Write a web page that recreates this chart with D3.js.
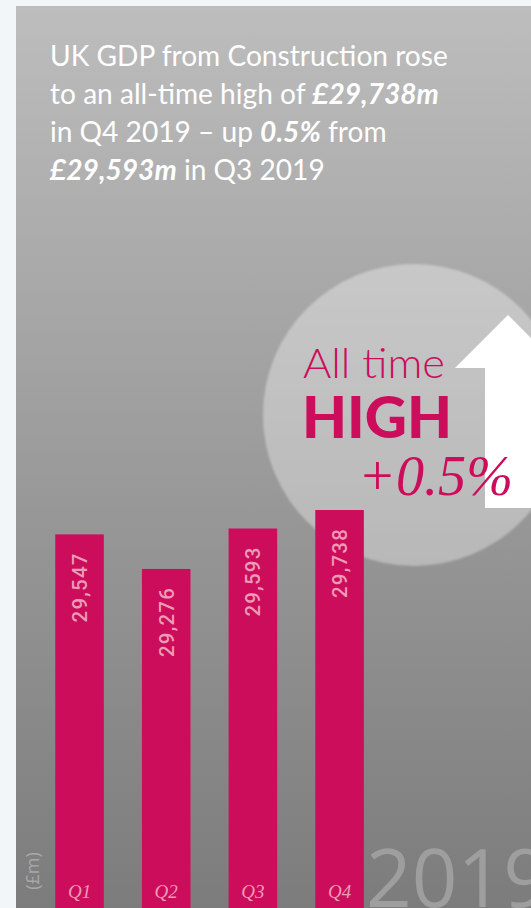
<!DOCTYPE html>
<html>
<head>
<meta charset="utf-8">
<script src="https://cdn.jsdelivr.net/npm/d3@7"></script>
<style>
  html, body { margin: 0; padding: 0; background: #f3f6f9; }
  svg { display: block; }
</style>
</head>
<body>
<script>
// Quarterly UK construction output, 2019 (£m)
const quarters = ["Q1", "Q2", "Q3", "Q4"];
const gdpValues = [29547, 29276, 29593, 29738];
const valueLabels = ["29,547", "29,276", "29,593", "29,738"];
const axisFloor = 26620;   // value at the bottom edge of the bars
const yearLabel = "2019";
const unitLabel = "(£m)";

const titleLines = [
  [{t: "UK GDP from Construction rose", b: false}],
  [{t: "to an all-time high of ", b: false}, {t: "£29,738m", b: true}],
  [{t: "in Q4 2019 – up ", b: false}, {t: "0.5%", b: true}, {t: " from", b: false}],
  [{t: "£29,593m", b: true}, {t: " in Q3 2019", b: false}]
];

const W = 531, H = 908;
const pink = "#cc0d5b";
const pinkLight = "#ee9bb6";

const svg = d3.select("body").append("svg")
  .attr("width", W).attr("height", H);

const defs = svg.append("defs");
const bg = defs.append("linearGradient").attr("id", "panelGrad")
  .attr("x1", 0).attr("y1", 0).attr("x2", 0).attr("y2", 1);
bg.append("stop").attr("offset", "0%").attr("stop-color", "#bdbdbd");
bg.append("stop").attr("offset", "55%").attr("stop-color", "#989898");
bg.append("stop").attr("offset", "100%").attr("stop-color", "#7c7c7c");

const cg = defs.append("linearGradient").attr("id", "circleGrad")
  .attr("x1", 0).attr("y1", 0).attr("x2", 0).attr("y2", 1);
cg.append("stop").attr("offset", "0%").attr("stop-color", "#c8c8c8");
cg.append("stop").attr("offset", "100%").attr("stop-color", "#b8b8b8");

defs.append("filter").attr("id", "soft")
  .append("feGaussianBlur").attr("stdDeviation", 0.8);

defs.append("clipPath").attr("id", "panelClip")
  .append("rect").attr("x", 16).attr("y", 6).attr("width", W - 16).attr("height", H - 6);

// page and panel
svg.append("rect").attr("width", W).attr("height", H).attr("fill", "#f3f6f9");
svg.append("rect").attr("x", 16).attr("y", 6).attr("width", W - 16).attr("height", H - 6)
  .attr("fill", "url(#panelGrad)");

const panel = svg.append("g").attr("clip-path", "url(#panelClip)");

// highlight disc with the upward arrow
panel.append("circle").attr("cx", 414).attr("cy", 415).attr("r", 151)
  .attr("fill", "url(#circleGrad)").attr("filter", "url(#soft)");

const arrow = d3.path();
arrow.moveTo(508, 315);
arrow.lineTo(561, 368);
arrow.lineTo(531, 368);
arrow.lineTo(531, 508);
arrow.lineTo(485, 508);
arrow.lineTo(485, 368);
arrow.lineTo(455, 368);
arrow.closePath();
panel.append("path").attr("d", arrow.toString()).attr("fill", "#ffffff");

panel.append("text").attr("x", 303).attr("y", 378)
  .attr("font-family", "Lato, sans-serif").attr("font-weight", 300)
  .attr("font-size", 41).attr("fill", pink)
  .attr("textLength", 142).attr("lengthAdjust", "spacingAndGlyphs")
  .text("All time");
panel.append("text").attr("x", 302).attr("y", 438)
  .attr("font-family", "Lato, sans-serif").attr("font-weight", 900)
  .attr("font-size", 57).attr("fill", pink)
  .attr("textLength", 150).attr("lengthAdjust", "spacingAndGlyphs")
  .text("HIGH");
panel.append("text").attr("x", 358).attr("y", 495)
  .attr("font-family", "'Liberation Serif', serif").attr("font-style", "italic")
  .attr("font-size", 58).attr("fill", pink)
  .attr("textLength", 155).attr("lengthAdjust", "spacingAndGlyphs")
  .text("+0.5%");

// headline
const title = panel.append("g").attr("transform", "translate(50,0)");
const titleText = title.selectAll("text").data(titleLines).join("text")
  .attr("x", 0)
  .attr("y", (d, i) => 66.5 + i * 37.8)
  .attr("font-family", "Lato, sans-serif")
  .attr("font-size", 29)
  .attr("fill", "#ffffff");
titleText.selectAll("tspan").data(d => d).join("tspan")
  .attr("font-weight", d => d.b ? 700 : 400)
  .attr("font-style", d => d.b ? "italic" : "normal")
  .text(d => d.t);
const firstLen = titleText.node().getComputedTextLength();
title.attr("transform", `translate(50,0) scale(${398 / firstLen},1)`);

// bars
const x = d3.scaleBand().domain(quarters).range([36.2, 382.9])
  .paddingInner(0.44).paddingOuter(0.22);
const y = d3.scaleLinear().domain([axisFloor, 29738]).range([H, 510]);

const rows = quarters.map((q, i) => ({q, v: gdpValues[i], label: valueLabels[i]}));

panel.selectAll("rect.bar").data(rows).join("rect")
  .attr("class", "bar")
  .attr("x", d => x(d.q))
  .attr("y", d => y(d.v))
  .attr("width", x.bandwidth())
  .attr("height", d => y(axisFloor) - y(d.v))
  .attr("fill", pink);

panel.selectAll("text.val").data(rows).join("text")
  .attr("class", "val")
  .attr("transform", d => `translate(${x(d.q) + x.bandwidth() / 2},${y(d.v) + 18}) rotate(-90)`)
  .attr("text-anchor", "end")
  .attr("dy", "0.36em")
  .attr("font-family", "Roboto, sans-serif")
  .attr("font-weight", 500)
  .attr("font-size", 20.5)
  .attr("letter-spacing", 1.2)
  .attr("fill", pinkLight)
  .text(d => d.label);

// quarter labels
const xAxis = panel.append("g").attr("transform", `translate(0,${H - 10})`)
  .call(d3.axisBottom(x).tickSize(0).tickPadding(0));
xAxis.select(".domain").remove();
xAxis.selectAll("text")
  .attr("dy", 0)
  .attr("font-family", "'Liberation Serif', serif")
  .attr("font-style", "italic")
  .attr("font-size", 19)
  .attr("fill", pinkLight);

// unit and year
panel.append("text")
  .attr("transform", `translate(33,871) rotate(-90)`)
  .attr("text-anchor", "middle").attr("dy", "0.36em")
  .attr("font-family", "'Open Sans', sans-serif")
  .attr("font-size", 18).attr("fill", "#a8a8a8")
  .text(unitLabel);

panel.append("text").attr("x", 366).attr("y", 907)
  .attr("font-family", "'Open Sans', sans-serif").attr("font-weight", 400)
  .attr("font-size", 80).attr("fill", "#9e9e9e")
  .text(yearLabel);
</script>
</body>
</html>
